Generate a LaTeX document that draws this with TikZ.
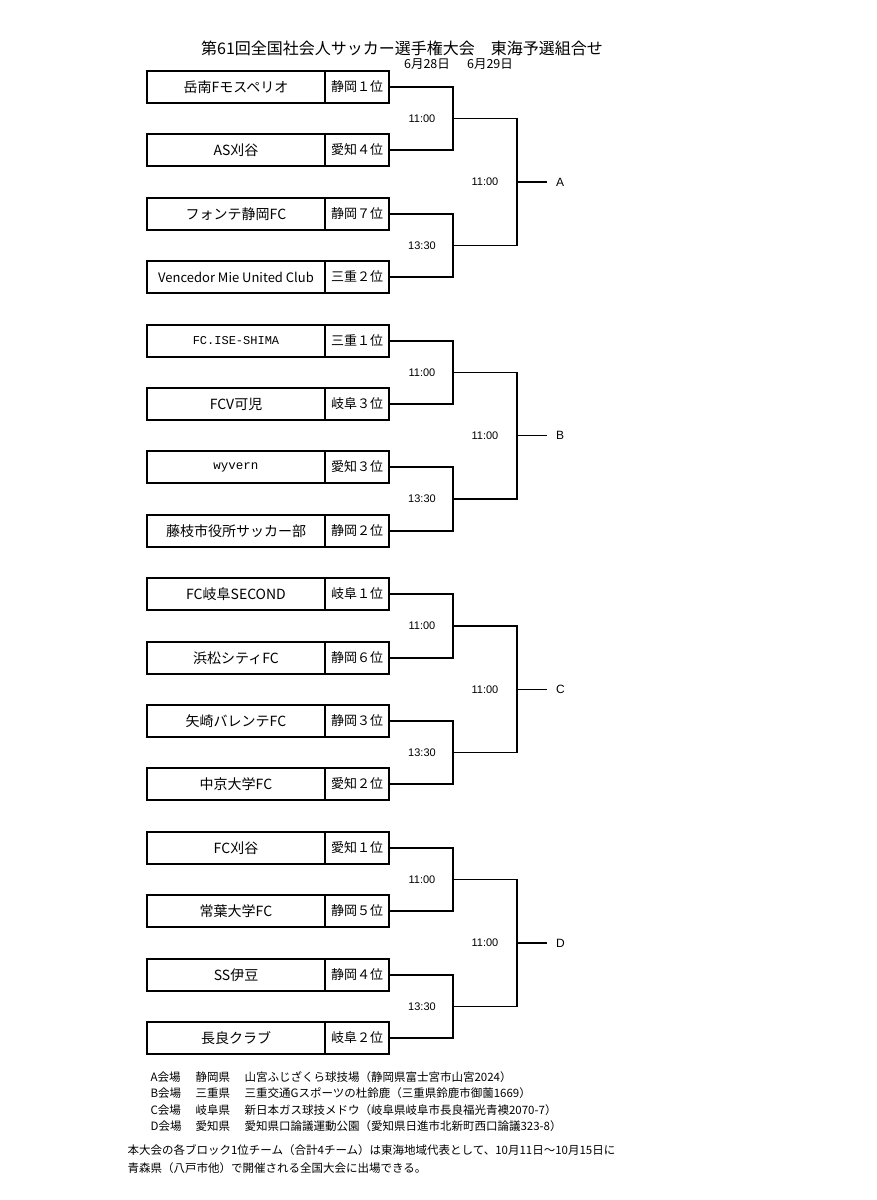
\documentclass[tikz,border=0pt]{standalone}
\usepackage{fontspec}
\setmainfont{Noto Sans CJK JP}
\newfontfamily\latin{Liberation Sans}
\newfontfamily\mono{Liberation Mono}
\usetikzlibrary{positioning,calc}

\begin{document}
\begin{tikzpicture}[x=1pt,y=-1pt,line width=1.2pt,
	team/.style={draw,line width=1.5pt,minimum width=178pt,minimum height=32pt,inner sep=0pt,outer sep=0pt,font=\fontsize{14}{14}\selectfont},
	rank/.style={draw,line width=1.5pt,minimum width=64pt,minimum height=32pt,inner sep=0pt,outer sep=0pt,font=\fontsize{13}{13}\selectfont},
	time/.style={font=\latin\fontsize{11}{11}\selectfont,inner sep=0pt},
	blk/.style={font=\latin\fontsize{12}{12}\selectfont,inner sep=0pt,outer sep=0pt,anchor=west},
	note/.style={font=\fontsize{11.5}{11.5}\selectfont,inner sep=0pt,anchor=west}]
\useasboundingbox (0,0) rectangle (877,1200);
\node[font=\fontsize{16}{16}\selectfont] (title) at (402,48) {第61回全国社会人サッカー選手権大会\quad 東海予選組合せ};
\node[font=\fontsize{12.5}{12.5}\selectfont] (day1) at (427,64) {6月28日};
\node[font=\fontsize{12.5}{12.5}\selectfont] (day2) at (490,64) {6月29日};
\foreach \n/\name/\rank in {0/岳南Fモスペリオ/静岡１位, 1/AS刈谷/愛知４位, 2/フォンテ静岡FC/静岡７位,
	3/{\fontsize{13}{13}\selectfont Vencedor Mie United Club}/三重２位,
	4/{\mono\fontsize{12}{12}\selectfont FC.ISE-SHIMA}/三重１位, 5/FCV可児/岐阜３位,
	6/{\mono\fontsize{12.5}{12.5}\selectfont wyvern}/愛知３位, 7/藤枝市役所サッカー部/静岡２位,
	8/FC岐阜SECOND/岐阜１位, 9/浜松シティFC/静岡６位, 10/矢崎バレンテFC/静岡３位, 11/中京大学FC/愛知２位,
	12/FC刈谷/愛知１位, 13/常葉大学FC/静岡５位, 14/SS伊豆/静岡４位, 15/長良クラブ/岐阜２位}{
	\pgfmathtruncatemacro\y{round(87+63.4*\n)}
	\node[team] (t\n) at (236,\y) {\name};
	\node[rank,right=0pt of t\n] (r\n) {\rank};
}
\foreach \k/\b in {0/A,1/B,2/C,3/D}{
	\pgfmathtruncatemacro\na{4*\k}
	\pgfmathtruncatemacro\nb{4*\k+1}
	\pgfmathtruncatemacro\nc{4*\k+2}
	\pgfmathtruncatemacro\nd{4*\k+3}
	\coordinate (j\b1) at ($(r\na.east)!0.5!(r\nb.east)+(64,0)$);
	\coordinate (j\b2) at ($(r\nc.east)!0.5!(r\nd.east)+(64,0)$);
	\coordinate (k\b1) at ($(j\b1)+(64,0)$);
	\coordinate (k\b2) at ($(j\b2)+(64,0)$);
	\coordinate (w\b) at ($(k\b1)!0.5!(k\b2)$);
	\node[blk] (l\b) at ($(w\b)+(30,0)$) {\hspace{9pt}\b};
	\draw (r\na) -| (j\b1) |- (r\nb);
	\draw (r\nc) -| (j\b2) |- (r\nd);
	\draw (j\b1) -- (k\b1) -- (k\b2) -- (j\b2);
	\draw (w\b) -- (l\b);
	\node[time] (ta\b) at ($(j\b1)+(-31,0)$) {11:00};
	\node[time] (tb\b) at ($(j\b2)+(-31,0)$) {13:30};
	\node[time] (tf\b) at ($(w\b)+(-32,0)$) {11:00};
}
\foreach \i/\v/\p/\s in {0/A会場/静岡県/山宮ふじざくら球技場（静岡県富士宮市山宮2024）,
	1/B会場/三重県/三重交通Gスポーツの杜鈴鹿（三重県鈴鹿市御薗1669）,
	2/C会場/岐阜県/新日本ガス球技メドウ（岐阜県岐阜市長良福光青襖2070-7）,
	3/D会場/愛知県/愛知県口論議運動公園（愛知県日進市北新町西口論議323-8）}{
	\node[note] (v\i) at (150,1077+16.5*\i) {\v};
	\node[note] (p\i) at (195,1077+16.5*\i) {\p};
	\node[note] (s\i) at (244,1077+16.5*\i) {\s};
}
\node[note] (foot1) at (127,1150) {本大会の各ブロック1位チーム（合計4チーム）は東海地域代表として、10月11日～10月15日に};
\node[note] (foot2) at (127,1168) {青森県（八戸市他）で開催される全国大会に出場できる。};
\end{tikzpicture}
\end{document}
